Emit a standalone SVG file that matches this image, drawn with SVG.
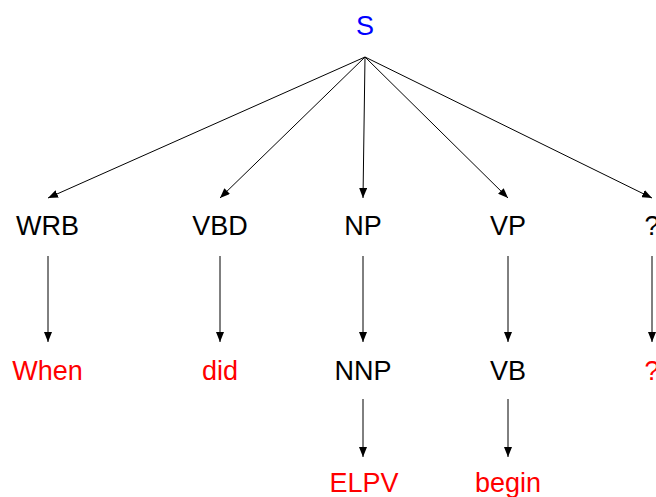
<svg xmlns="http://www.w3.org/2000/svg" width="656" height="497" viewBox="0 0 656 497">
  <style>
    text { font-family: "Liberation Sans", Arial, sans-serif; font-size: 27px; text-anchor: middle; }
    .root { fill: #0000ff; }
    .tag { fill: #000000; }
    .word { fill: #ff0000; }
    .edge { stroke: #000000; stroke-width: 1; fill: none; marker-end: url(#head); }
  </style>
  <defs>
    <marker id="head" viewBox="0 0 10 8" refX="10" refY="4" markerWidth="10" markerHeight="8" markerUnits="userSpaceOnUse" orient="auto">
      <path d="M0,0 L10,4 L0,8 Z" fill="#000000"/>
    </marker>
  </defs>

  <rect width="656" height="497" fill="#ffffff"/>

  <g id="connectors">
    <line class="edge" x1="365" y1="57" x2="48" y2="198"/>
    <line class="edge" x1="365" y1="57" x2="220" y2="198"/>
    <line class="edge" x1="365" y1="57" x2="363" y2="198"/>
    <line class="edge" x1="365" y1="57" x2="508" y2="198"/>
    <line class="edge" x1="365" y1="57" x2="652" y2="198"/>
    <line class="edge" x1="48" y1="256" x2="48" y2="342"/>
    <line class="edge" x1="220" y1="256" x2="220" y2="342"/>
    <line class="edge" x1="363" y1="256" x2="363" y2="342"/>
    <line class="edge" x1="508" y1="256" x2="508" y2="342"/>
    <line class="edge" x1="652" y1="256" x2="652" y2="342"/>
    <line class="edge" x1="363" y1="399" x2="363" y2="457"/>
    <line class="edge" x1="508" y1="399" x2="508" y2="457"/>
  </g>

  <g id="node-S"><text class="root" x="365" y="35">S</text></g>

  <g id="node-WRB"><text class="tag" x="47.5" y="235">WRB</text></g>
  <g id="node-VBD"><text class="tag" x="220" y="235">VBD</text></g>
  <g id="node-NP"><text class="tag" x="363" y="235">NP</text></g>
  <g id="node-VP"><text class="tag" x="508" y="235">VP</text></g>
  <g id="node-Q"><text class="tag" x="652" y="235">?</text></g>

  <g id="node-When"><text class="word" x="47.5" y="380">When</text></g>
  <g id="node-did"><text class="word" x="220" y="380">did</text></g>
  <g id="node-NNP"><text class="tag" x="363" y="380">NNP</text></g>
  <g id="node-VB"><text class="tag" x="508" y="380">VB</text></g>
  <g id="node-Qword"><text class="word" x="652" y="380">?</text></g>

  <g id="node-ELPV"><text class="word" x="364" y="492">ELPV</text></g>
  <g id="node-begin"><text class="word" x="508" y="492">begin</text></g>
</svg>
